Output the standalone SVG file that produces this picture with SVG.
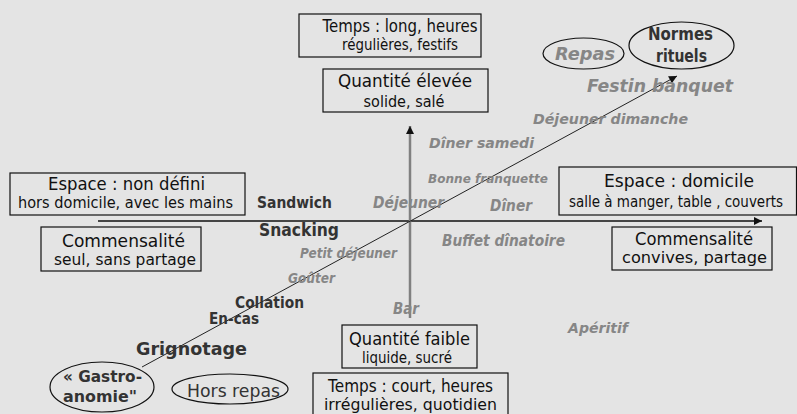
<svg xmlns="http://www.w3.org/2000/svg" width="797" height="414" viewBox="0 0 797 414">
<defs>
<style>
text{font-family:"DejaVu Sans","Liberation Sans",sans-serif}
.bx{fill:none;stroke:#111;stroke-width:1.2}
.el{fill:none;stroke:#111;stroke-width:1.2}
.t1{font-size:17px;fill:#111;text-anchor:middle}
.t2{font-size:15px;fill:#111;text-anchor:middle}
.dk{font-weight:bold;fill:#333}
.gr{font-weight:bold;font-style:italic;fill:#868686}
</style>
<marker id="ah" viewBox="0 0 10 10" refX="10" refY="5" markerWidth="9" markerHeight="8" markerUnits="userSpaceOnUse" orient="auto"><path d="M0,0 L10,5 L0,10 z" fill="#111"/></marker>
</defs>
<rect width="797" height="414" fill="#e4e4e4"/>

<g id="connectors">
<line x1="98" y1="221" x2="762" y2="221" stroke="#111" stroke-width="1.5" marker-end="url(#ah)"/>
<line x1="410" y1="318" x2="410" y2="126" stroke="#808080" stroke-width="2.5" marker-end="url(#ah)"/>
<line x1="142" y1="367" x2="677" y2="76" stroke="#222" stroke-width="1" marker-end="url(#ah)"/>
</g>

<g id="temps-long">
<rect class="bx" x="299" y="14" width="182" height="43"/>
<text class="t1" x="400" y="32" font-size="16" textLength="155" lengthAdjust="spacingAndGlyphs">Temps : long, heures</text>
<text class="t2" x="400" y="50" textLength="116" lengthAdjust="spacingAndGlyphs">régulières, festifs</text>
</g>
<g id="quantite-elevee">
<rect class="bx" x="323" y="69" width="165" height="43"/>
<text class="t1" x="405" y="87" textLength="134" lengthAdjust="spacingAndGlyphs">Quantité élevée</text>
<text class="t2" x="404" y="107" textLength="81" lengthAdjust="spacingAndGlyphs">solide, salé</text>
</g>
<g id="repas">
<ellipse class="el" cx="583.5" cy="53.5" rx="40.5" ry="15.5"/>
<text class="gr" x="555" y="60" font-size="18" textLength="60" lengthAdjust="spacingAndGlyphs">Repas</text>
</g>
<g id="normes">
<ellipse class="el" cx="681.5" cy="45.5" rx="52.5" ry="23.5"/>
<text class="dk" x="648" y="40" font-size="17" textLength="65" lengthAdjust="spacingAndGlyphs">Normes</text>
<text class="dk" x="656" y="62" font-size="17" textLength="51" lengthAdjust="spacingAndGlyphs">rituels</text>
</g>
<g id="espace-non-defini">
<rect class="bx" x="10" y="173" width="235" height="42"/>
<text class="t1" x="126.5" y="190" textLength="157" lengthAdjust="spacingAndGlyphs">Espace : non défini</text>
<text class="t2" x="125.5" y="208" font-size="13.5" textLength="215" lengthAdjust="spacingAndGlyphs">hors domicile, avec les mains</text>
</g>
<g id="commensalite-seul">
<rect class="bx" x="41" y="227" width="160" height="44"/>
<text class="t1" x="123.5" y="247" textLength="123" lengthAdjust="spacingAndGlyphs">Commensalité</text>
<text class="t2" x="125" y="265" textLength="142" lengthAdjust="spacingAndGlyphs">seul, sans partage</text>
</g>
<g id="espace-domicile">
<rect class="bx" x="559" y="167" width="237.5" height="48"/>
<text class="t1" x="679" y="187" textLength="150" lengthAdjust="spacingAndGlyphs">Espace : domicile</text>
<text class="t2" x="676" y="207" font-size="13.5" textLength="214" lengthAdjust="spacingAndGlyphs">salle à manger, table , couverts</text>
</g>
<g id="commensalite-convives">
<rect class="bx" x="612" y="227" width="160" height="43"/>
<text class="t1" x="694" y="245" textLength="118" lengthAdjust="spacingAndGlyphs">Commensalité</text>
<text class="t2" x="694.5" y="263" textLength="145" lengthAdjust="spacingAndGlyphs">convives, partage</text>
</g>
<g id="quantite-faible">
<rect class="bx" x="342" y="325" width="135" height="43"/>
<text class="t1" x="409.5" y="345" textLength="121" lengthAdjust="spacingAndGlyphs">Quantité faible</text>
<text class="t2" x="407" y="363" textLength="90" lengthAdjust="spacingAndGlyphs">liquide, sucré</text>
</g>
<g id="temps-court">
<rect class="bx" x="313" y="373" width="195" height="50"/>
<text class="t1" x="410.5" y="392" textLength="165" lengthAdjust="spacingAndGlyphs">Temps : court, heures</text>
<text class="t2" x="410.5" y="410" textLength="173" lengthAdjust="spacingAndGlyphs">irrégulières, quotidien</text>
</g>
<g id="gastro-anomie">
<ellipse class="el" cx="102" cy="387" rx="52" ry="25"/>
<text class="dk" x="63" y="382" font-size="16.5" textLength="79" lengthAdjust="spacingAndGlyphs">« Gastro-</text>
<text class="dk" x="63" y="402" font-size="16.5" textLength="74" lengthAdjust="spacingAndGlyphs">anomie"</text>
</g>
<g id="hors-repas">
<ellipse class="el" cx="230" cy="389" rx="58" ry="15"/>
<text x="187" y="397" font-size="18" fill="#333" textLength="93" lengthAdjust="spacingAndGlyphs">Hors repas</text>
</g>

<g id="labels">
<text class="gr" x="587" y="92" font-size="18" textLength="146" lengthAdjust="spacingAndGlyphs">Festin banquet</text>
<text class="gr" x="533" y="124" font-size="14" textLength="155" lengthAdjust="spacingAndGlyphs">Déjeuner dimanche</text>
<text class="gr" x="429" y="148" font-size="14.5" textLength="105" lengthAdjust="spacingAndGlyphs">Dîner samedi</text>
<text class="gr" x="428" y="183" font-size="11.5" textLength="120" lengthAdjust="spacingAndGlyphs">Bonne franquette</text>
<text class="dk" x="257" y="208" font-size="16" textLength="75" lengthAdjust="spacingAndGlyphs">Sandwich</text>
<text class="gr" x="373" y="208" font-size="16" textLength="71" lengthAdjust="spacingAndGlyphs">Déjeuner</text>
<text class="gr" x="490" y="211" font-size="16" textLength="42" lengthAdjust="spacingAndGlyphs">Dîner</text>
<text class="dk" x="259" y="236" font-size="17" textLength="80" lengthAdjust="spacingAndGlyphs">Snacking</text>
<text class="gr" x="442" y="246" font-size="15" textLength="123" lengthAdjust="spacingAndGlyphs">Buffet dînatoire</text>
<text class="gr" x="300" y="258" font-size="14" textLength="97" lengthAdjust="spacingAndGlyphs">Petit déjeuner</text>
<text class="gr" x="288" y="283" font-size="14.5" textLength="47" lengthAdjust="spacingAndGlyphs">Goûter</text>
<text class="dk" x="235" y="308" font-size="15" textLength="69" lengthAdjust="spacingAndGlyphs">Collation</text>
<text class="gr" x="393" y="314" font-size="16" textLength="26" lengthAdjust="spacingAndGlyphs">Bar</text>
<text class="dk" x="209" y="324" font-size="15" textLength="50" lengthAdjust="spacingAndGlyphs">En-cas</text>
<text class="gr" x="568" y="333" font-size="14.5" textLength="60" lengthAdjust="spacingAndGlyphs">Apéritif</text>
<text class="dk" x="136" y="355" font-size="18" textLength="111" lengthAdjust="spacingAndGlyphs">Grignotage</text>
</g>
</svg>
